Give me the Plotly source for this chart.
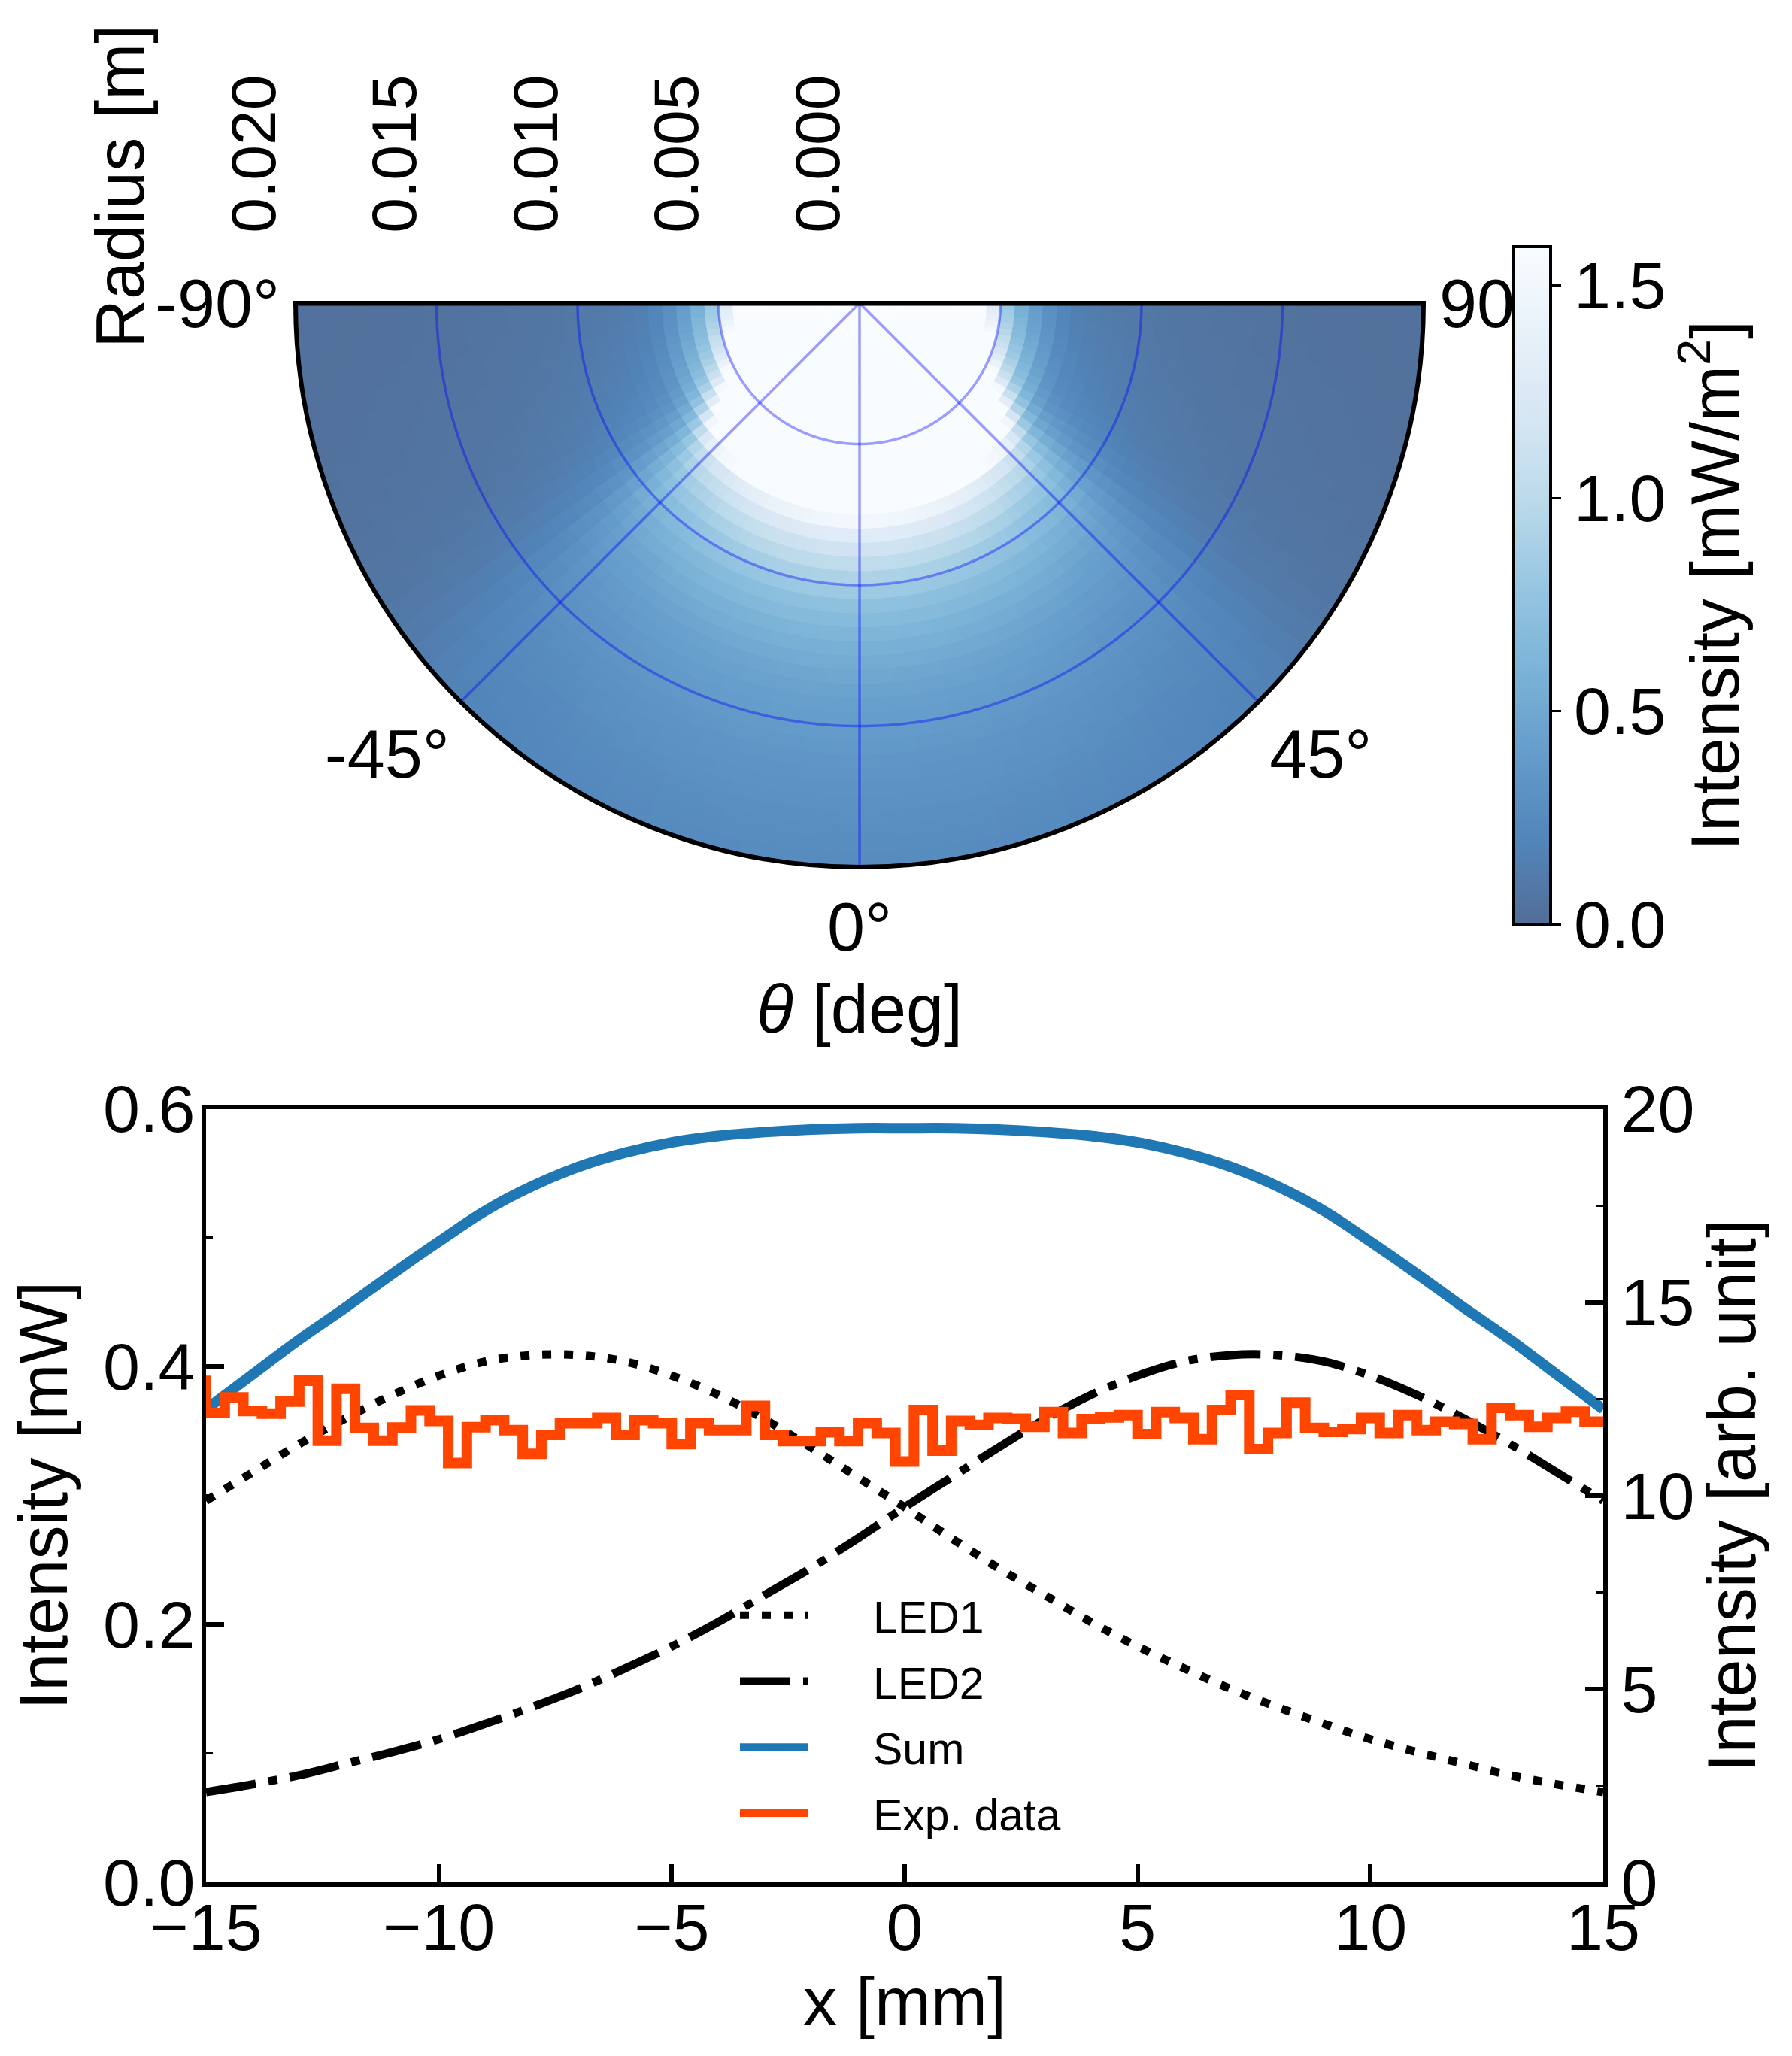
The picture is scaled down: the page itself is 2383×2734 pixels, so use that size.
import numpy as np
import plotly.graph_objects as go

# The page body adds an 8 px margin, so the figure is 16 px smaller than the window
OFF = 8
FW, FH = 2383 - 2 * OFF, 2734 - 2 * OFF


def px(x):   # screen x (px) -> paper fraction
    return (x - OFF) / FW


def py(y):   # screen y (px from top) -> paper fraction
    return 1 - (y - OFF) / FH


# ---------------- top panel: intensity map ----------------
ring_centers_mm = [0.25, 0.75, 1.25, 1.75, 2.25, 2.75, 3.25, 3.75, 4.25, 4.75,
                   5.25, 5.75, 6.25, 6.75, 7.25, 7.75, 8.25, 8.75, 9.25, 9.75,
                   10.25, 10.75, 11.25, 11.75, 12.25, 12.75, 13.25, 13.75, 14.25, 14.75,
                   15.25, 15.75, 16.25, 16.75, 17.25, 17.75, 18.25, 18.75, 19.25, 19.75]
radial_profile = [80, 70, 60, 52, 45, 38, 32, 26, 20, 12.5,
                  8.0, 5.6, 4.0, 2.8, 1.95, 1.50, 1.30, 1.15, 1.03, 0.92,
                  0.83, 0.74, 0.68, 0.62, 0.57, 0.53, 0.49, 0.46, 0.43, 0.41,
                  0.39, 0.37, 0.35, 0.335, 0.32, 0.305, 0.29, 0.28, 0.27, 0.26]
sector_centers_deg = [1.25, 3.75, 6.25, 8.75, 11.25, 13.75, 16.25, 18.75, 21.25, 23.75,
                      26.25, 28.75, 31.25, 33.75, 36.25, 38.75, 41.25, 43.75, 46.25, 48.75,
                      51.25, 53.75, 56.25, 58.75, 61.25, 63.75, 66.25, 68.75, 71.25, 73.75,
                      76.25, 78.75, 81.25, 83.75, 86.25, 88.75]
angular_profile = [1.000, 0.998, 0.995, 0.990, 0.985, 0.978, 0.970, 0.960, 0.950, 0.935,
                   0.920, 0.900, 0.880, 0.860, 0.830, 0.800, 0.780, 0.750, 0.700, 0.630,
                   0.530, 0.420, 0.330, 0.270, 0.225, 0.195, 0.175, 0.160, 0.148, 0.138,
                   0.130, 0.122, 0.115, 0.110, 0.105, 0.100]
radius_ticks = [0.0, 0.005, 0.010, 0.015, 0.020]
radius_ticktext = ["0.000", "0.005", "0.010", "0.015", "0.020"]
theta_ticks = [-90, -45, 0, 45, 90]
theta_ticktext = ["-90°", "-45°", "0°", "45°", "90°"]
cbar_ticks = [0.0, 0.5, 1.0, 1.5]
cbar_max = 1.59
TH0 = 270  # plotly angle of theta = 0 (pointing down)

# ---------------- bottom panel ----------------
x_model = [-15, -14, -13, -12, -11, -10, -9, -8, -7, -6, -5, -4, -3, -2, -1, 0,
           1, 2, 3, 4, 5, 6, 7, 8, 9, 10, 11, 12, 13, 14, 15]
led1 = [0.296, 0.318, 0.340, 0.360, 0.378, 0.393, 0.404, 0.409, 0.409, 0.404,
        0.393, 0.378, 0.359, 0.337, 0.314, 0.291, 0.267, 0.244, 0.223, 0.202,
        0.183, 0.166, 0.150, 0.136, 0.123, 0.111, 0.101, 0.092, 0.083, 0.076, 0.070]
led2 = [0.070, 0.076, 0.083, 0.092, 0.101, 0.111, 0.123, 0.136, 0.150, 0.166,
        0.183, 0.202, 0.223, 0.244, 0.267, 0.291, 0.314, 0.337, 0.359, 0.378,
        0.393, 0.404, 0.409, 0.409, 0.404, 0.393, 0.378, 0.360, 0.340, 0.318, 0.296]
sum_curve = [0.367, 0.394, 0.421, 0.446, 0.472, 0.497, 0.521, 0.540, 0.555, 0.566,
             0.574, 0.579, 0.582, 0.584, 0.585, 0.585, 0.585, 0.584, 0.582, 0.579,
             0.574, 0.566, 0.555, 0.540, 0.521, 0.497, 0.472, 0.446, 0.421, 0.394, 0.367]
x_exp = [-15.0, -14.6, -14.2, -13.8, -13.4, -13.0, -12.6, -12.2, -11.8, -11.4,
         -11.0, -10.6, -10.2, -9.8, -9.4, -9.0, -8.6, -8.2, -7.8, -7.4,
         -7.0, -6.6, -6.2, -5.8, -5.4, -5.0, -4.6, -4.2, -3.8, -3.4,
         -3.0, -2.6, -2.2, -1.8, -1.4, -1.0, -0.6, -0.2, 0.2, 0.6,
         1.0, 1.4, 1.8, 2.2, 2.6, 3.0, 3.4, 3.8, 4.2, 4.6,
         5.0, 5.4, 5.8, 6.2, 6.6, 7.0, 7.4, 7.8, 8.2, 8.6,
         9.0, 9.4, 9.8, 10.2, 10.6, 11.0, 11.4, 11.8, 12.2, 12.6,
         13.0, 13.4, 13.8, 14.2, 14.6, 15.0]
exp_data = [13.10, 12.14, 12.54, 12.19, 12.12, 12.43, 12.97, 11.42, 12.76, 11.75,
            11.42, 11.76, 12.20, 11.93, 10.84, 11.77, 11.95, 11.69, 11.08, 11.57,
            11.87, 11.87, 12.01, 11.57, 11.95, 11.87, 11.33, 11.87, 11.69, 11.69,
            12.32, 11.57, 11.41, 11.41, 11.64, 11.41, 11.87, 11.62, 10.88, 12.21,
            11.16, 11.93, 11.83, 12.01, 11.99, 11.78, 12.16, 11.62, 11.98, 12.02,
            12.08, 11.59, 12.16, 12.01, 11.46, 12.21, 12.60, 11.20, 11.62, 12.40,
            11.75, 11.65, 11.72, 12.01, 11.62, 12.08, 11.69, 11.91, 11.85, 11.46,
            12.27, 12.08, 11.78, 12.01, 12.17, 11.91]
x_ticks = [-15, -10, -5, 0, 5, 10, 15]
y_ticks = [0.0, 0.2, 0.4, 0.6]
y_minor = [0.1, 0.3, 0.5]
y2_ticks = [0, 5, 10, 15, 20]
y2_minor = [2.5, 7.5, 12.5, 17.5]

# ---------------- styles ----------------
SANS = "Liberation Sans, Arial, sans-serif"
blues = ["#f7fbff", "#deebf7", "#c6dbef", "#9ecae1", "#6baed6",
         "#4292c6", "#2171b5", "#08519c", "#08306b"]


def blend(hx, a=0.7):
    r, g, b = int(hx[1:3], 16), int(hx[3:5], 16), int(hx[5:7], 16)
    f = lambda c: int(round(a * c + (1 - a) * 255))
    return f"rgb({f(r)},{f(g)},{f(b)})"


cmap = [blend(c) for c in blues[::-1]]
colorscale = [[i / (len(cmap) - 1), c] for i, c in enumerate(cmap)]

fig = go.Figure()

# polar heatmap built from the two read profiles
ring_w = 0.0005
sec_w = 2.5
thetas, bases, vals = [], [], []
for ri, rc in enumerate(ring_centers_mm):
    for ti, tc in enumerate(sector_centers_deg):
        v = radial_profile[ri] * angular_profile[ti]
        for s in (-1, 1):
            thetas.append(TH0 + s * tc)
            bases.append(rc / 1000.0 - ring_w / 2)
            vals.append(v)
n = len(vals)
fig.add_trace(go.Barpolar(
    r=[ring_w * 1.05] * n, base=bases, theta=thetas, width=[sec_w * 1.06] * n,
    marker=dict(color=vals, colorscale=colorscale, cmin=0, cmax=cbar_max,
                line=dict(width=0),
                showscale=True,
                colorbar=dict(
                    x=px(2013), xanchor="left", xpad=0, ypad=0,
                    y=py(778.5), yanchor="middle",
                    len=901 / FH, lenmode="fraction", thickness=49,
                    outlinewidth=4, outlinecolor="black", bgcolor="white",
                    ticks="outside", ticklen=12, tickwidth=3, tickcolor="black",
                    tickvals=cbar_ticks, tickformat=".1f",
                    tickfont=dict(family=SANS, size=88, color="black"),
                    title=dict(text="Intensity [mW/m<sup>2</sup>]", side="right",
                               font=dict(family=SANS, size=90, color="black")),
                )),
    showlegend=False, hoverinfo="skip", subplot="polar",
))

# grid lines on top of the map (from tick values)
grid_col = "rgba(0,0,255,0.38)"
arc = np.linspace(-90, 90, 361)
for rv in radius_ticks[1:-1]:
    fig.add_trace(go.Scatterpolar(r=[rv] * len(arc), theta=TH0 + arc, mode="lines",
                                  line=dict(color=grid_col, width=3.5),
                                  showlegend=False, hoverinfo="skip", subplot="polar"))
for tv in theta_ticks[1:-1]:
    fig.add_trace(go.Scatterpolar(r=[0, radius_ticks[-1]], theta=[TH0 + tv, TH0 + tv],
                                  mode="lines", line=dict(color=grid_col, width=3.5),
                                  showlegend=False, hoverinfo="skip", subplot="polar"))
# straight top edge of the half disc
fig.add_trace(go.Scatterpolar(r=[radius_ticks[-1], 0, radius_ticks[-1]],
                              theta=[TH0 - 90, TH0, TH0 + 90], mode="lines",
                              line=dict(color="black", width=7),
                              showlegend=False, hoverinfo="skip", subplot="polar"))

# bottom panel traces
NB = "\u00a0" * 5
fig.add_trace(go.Scatter(x=x_model, y=led1, name=NB + "LED1", mode="lines",
                         line=dict(color="black", width=11, dash="12px,17px", shape="spline"),
                         xaxis="x", yaxis="y", legendgroup="a"))
fig.add_trace(go.Scatter(x=x_model, y=led2, name=NB + "LED2", mode="lines",
                         line=dict(color="black", width=11, dash="67px,17px,12px,17px", shape="spline"),
                         xaxis="x", yaxis="y", legendgroup="b"))
fig.add_trace(go.Scatter(x=x_model, y=sum_curve, name=NB + "Sum", mode="lines",
                         line=dict(color="#1f77b4", width=14, shape="spline"),
                         xaxis="x", yaxis="y", legendgroup="c"))
fig.add_trace(go.Scatter(x=x_exp, y=exp_data, name=NB + "Exp. data", mode="lines",
                         line=dict(color="#ff4500", width=14, shape="vh"),
                         xaxis="x", yaxis="y2", legendgroup="d"))

axis_common = dict(showline=True, linecolor="black", linewidth=6, ticks="inside",
                   ticklen=24, tickwidth=6, tickcolor="black", showgrid=False,
                   zeroline=False, automargin=False,
                   tickfont=dict(family=SANS, size=88, color="black"))

cx, cy, R = 1143, 403, 750
fig.update_layout(
    width=FW, height=FH, margin=dict(l=0, r=0, t=0, b=0, autoexpand=False),
    paper_bgcolor="white", plot_bgcolor="white",
    font=dict(family=SANS, color="black"),
    polar=dict(
        domain=dict(x=[px(cx - R), px(cx + R)], y=[py(cy + R), py(cy)]),
        sector=[180, 360], bgcolor="white",
        radialaxis=dict(range=[0, 0.02], tickvals=radius_ticks,
                        ticktext=[t + "<br>\u00a0" for t in radius_ticktext],
                        angle=180, side="clockwise", tickangle=90,
                        ticks="outside", ticklen=76, tickcolor="rgba(0,0,0,0)",
                        showline=False, showgrid=False,
                        tickfont=dict(family=SANS, size=84, color="black")),
        angularaxis=dict(rotation=0, direction="counterclockwise",
                         tickmode="array", tickvals=[TH0 + t for t in theta_ticks],
                         ticktext=theta_ticktext,
                         showline=True, linecolor="black", linewidth=6,
                         showgrid=False, ticks="",
                         tickfont=dict(family=SANS, size=90, color="black")),
    ),
    xaxis=dict(domain=[px(274), px(2132)], anchor="y", range=[-15, 15],
               tickvals=x_ticks, mirror=True, ticklabelstandoff=-22,
               title=dict(text="x [mm]", font=dict(family=SANS, size=90), standoff=4),
               **axis_common),
    yaxis=dict(domain=[py(2503), py(1474.5)], anchor="x", range=[0, 0.6],
               tickvals=y_ticks, tickformat=".1f", ticklabelstandoff=-9,
               minor=dict(tickvals=y_minor, ticks="inside", ticklen=9, tickwidth=3,
                          tickcolor="black"),
               title=dict(text="Intensity [mW]", font=dict(family=SANS, size=90), standoff=20),
               **axis_common),
    yaxis2=dict(overlaying="y", side="right", anchor="x", range=[0, 20],
                tickvals=y2_ticks,
                minor=dict(tickvals=y2_minor, ticks="inside", ticklen=9, tickwidth=3,
                           tickcolor="black"),
                title=dict(text="Intensity [arb. unit]", font=dict(family=SANS, size=90), standoff=15),
                **axis_common),
    legend=dict(x=px(979), y=py(2103), xanchor="left", yanchor="top",
                bgcolor="rgba(0,0,0,0)", font=dict(family=SANS, size=59, color="black"),
                itemwidth=90, tracegroupgap=8),
    annotations=[
        dict(text="Radius [m]", x=px(160), y=py(248), xref="paper", yref="paper",
             showarrow=False, textangle=-90, font=dict(family=SANS, size=90, color="black"),
             xanchor="center", yanchor="middle"),
        dict(text="<i>θ</i> [deg]", x=px(1143), y=py(1342), xref="paper", yref="paper",
             showarrow=False, font=dict(family=SANS, size=90, color="black"),
             xanchor="center", yanchor="middle"),
    ],
)

fig.write_html("out.html")
